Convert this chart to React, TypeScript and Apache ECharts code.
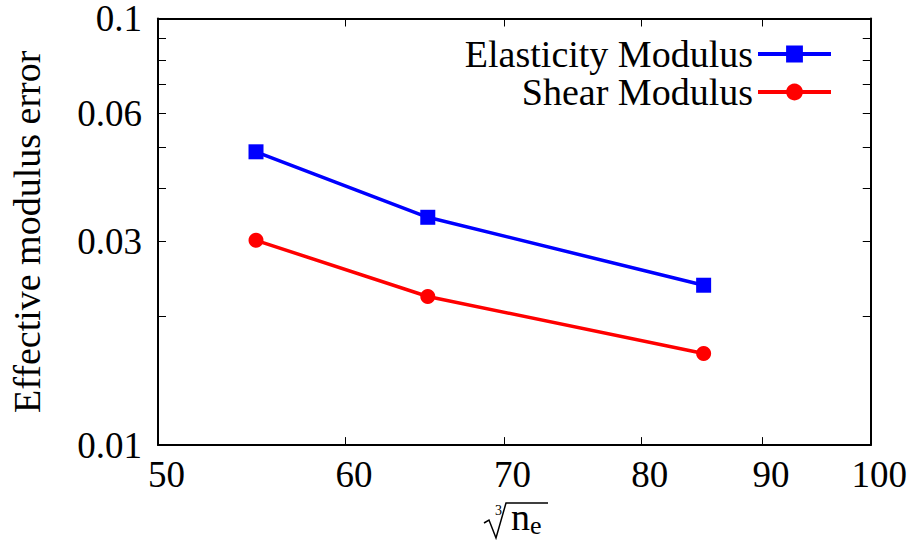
import React, { useEffect, useRef } from "react";
import * as echarts from "echarts";

const xValues = [55, 65, 85];
const elasticity = [0.0487, 0.0342, 0.0237];
const shear = [0.0302, 0.0223, 0.0164];
const xTicks = [50, 60, 70, 80, 90, 100];
const yTicks = [0.01, 0.02, 0.03, 0.04, 0.05, 0.06, 0.07, 0.08, 0.09, 0.1];
const yLabels = [0.01, 0.03, 0.06, 0.1];
const seriesNames = ["Elasticity Modulus", "Shear Modulus"];

const FONT = "serif";

export default function App() {
  const ref = useRef<HTMLDivElement>(null);
  useEffect(() => {
    document.body.style.margin = "0";
    if (!ref.current) return;
    const chart = echarts.init(ref.current, undefined, { renderer: "svg" });
    const fmt = (v: number) => String(+Number(v).toPrecision(2));
    const baseX = {
      type: "log" as const,
      logBase: 10,
      min: 50,
      max: 100,
      axisLine: { show: true, lineStyle: { color: "#000", width: 2 } },
      axisTick: { show: true, inside: true, length: 8, customValues: xTicks, lineStyle: { color: "#000", width: 1 } },
      splitLine: { show: false },
    };
    const baseY = {
      type: "log" as const,
      logBase: 10,
      min: 0.01,
      max: 0.1,
      axisLine: { show: true, lineStyle: { color: "#000", width: 2 } },
      axisTick: { show: true, inside: true, length: 8, customValues: yTicks, lineStyle: { color: "#000", width: 1 } },
      splitLine: { show: false },
    };
    chart.setOption({
      animation: false,
      grid: { left: 156, right: 39, top: 18, bottom: 96 },
      legend: {
        right: 72,
        top: 30,
        orient: "vertical",
        align: "right",
        itemWidth: 73,
        itemHeight: 21,
        itemGap: 0,
        itemTextGap: 15,
        lineStyle: { width: 4 },
        textStyle: { fontFamily: FONT, fontSize: 38, color: "#000", lineHeight: 29 },
        data: seriesNames,
      },
      graphic: [
        {
          type: "polyline",
          shape: { points: [[484, 523], [489, 520], [496, 538], [506, 503], [548, 503]] },
          style: { stroke: "#000", lineWidth: 1.5, fill: "none" },
          silent: true,
        },
      ],
      xAxis: [
        {
          ...baseX,
          position: "bottom",
          axisLabel: {
            show: true,
            customValues: xTicks,
            formatter: fmt,
            fontFamily: FONT,
            fontSize: 37,
            color: "#000",
            margin: 11,
            padding: [0, 0, 0, 17],
          },
          name: "{t|3}{n|n}{e|e}",
          nameLocation: "middle",
          nameGap: 50,
          nameTextStyle: {
            fontFamily: FONT,
            color: "#000",
            rich: {
              t: { fontFamily: FONT, fontSize: 14, color: "#000", padding: [0, 9, 14, 8] },
              n: { fontFamily: FONT, fontSize: 38, color: "#000" },
              e: { fontFamily: FONT, fontSize: 26, color: "#000", padding: [16, 0, 0, 0] },
            },
          },
        },
        { ...baseX, position: "top", axisLabel: { show: false } },
      ],
      yAxis: [
        {
          ...baseY,
          position: "left",
          axisLabel: {
            show: true,
            customValues: yLabels,
            formatter: fmt,
            fontFamily: FONT,
            fontSize: 37,
            color: "#000",
            margin: 16,
          },
          name: "Effective modulus error",
          nameLocation: "middle",
          nameRotate: 90,
          nameGap: 112,
          nameTextStyle: { fontFamily: FONT, fontSize: 38, color: "#000" },
        },
        { ...baseY, position: "right", axisLabel: { show: false } },
      ],
      series: [
        {
          name: seriesNames[0],
          type: "line",
          data: xValues.map((x, i) => [x, elasticity[i]]),
          symbol: "rect",
          symbolSize: 15,
          itemStyle: { color: "#0000ff" },
          lineStyle: { color: "#0000ff", width: 3.5 },
        },
        {
          name: seriesNames[1],
          type: "line",
          data: xValues.map((x, i) => [x, shear[i]]),
          symbol: "circle",
          symbolSize: 15,
          itemStyle: { color: "#ff0000" },
          lineStyle: { color: "#ff0000", width: 3.5 },
        },
      ],
    });
    return () => chart.dispose();
  }, []);
  return <div ref={ref} style={{ width: 910, height: 543 }} />;
}
